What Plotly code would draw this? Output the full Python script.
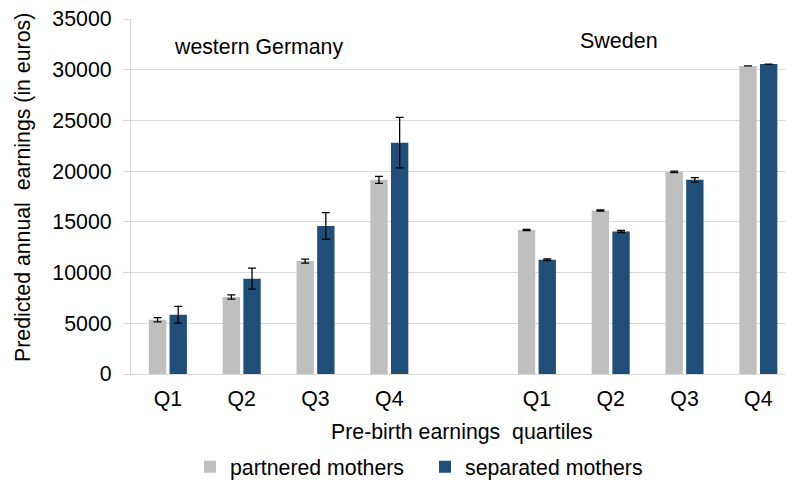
import plotly.graph_objects as go

# ---- data ----
quartiles = ["Q1", "Q2", "Q3", "Q4"]
countries = ["western Germany", "Sweden"]
series_names = ["partnered mothers", "separated mothers"]

germany_partnered = [5350, 7600, 11130, 19140]
germany_partnered_err = [215, 210, 200, 345]
germany_separated = [5840, 9400, 14600, 22810]
germany_separated_err = [820, 1035, 1315, 2490]

sweden_partnered = [14190, 16120, 19930, 30370]
sweden_partnered_err = [60, 50, 70, None]
sweden_separated = [11260, 14050, 19140, 30560]
sweden_separated_err = [80, 100, 230, None]

y_ticks = [0, 5000, 10000, 15000, 20000, 25000, 30000, 35000]

# ---- category layout (germany quartiles, spacer, sweden quartiles) ----
de_cats = ["DE " + q for q in quartiles]
se_cats = ["SE " + q for q in quartiles]
spacer = ["spacer"]
all_cats = de_cats + spacer + se_cats
tick_text = quartiles + [""] + quartiles

colors = {"partnered mothers": "#bfbfbf", "separated mothers": "#1f4e79"}
FONT = "Liberation Sans, Arial, sans-serif"

L, R, T, B = 131, 786, 19, 374
PW, PH = R - L, B - T

fig = go.Figure()

series = [
    ("partnered mothers", germany_partnered + sweden_partnered,
     germany_partnered_err + sweden_partnered_err),
    ("separated mothers", germany_separated + sweden_separated,
     germany_separated_err + sweden_separated_err),
]
for name, vals, errs in series:
    fig.add_trace(go.Bar(
        name=name,
        x=de_cats + se_cats,
        y=vals,
        marker=dict(color=colors[name], line=dict(width=0)),
        error_y=dict(type="data", array=errs, visible=True,
                     color="#000000", thickness=1.3, width=4),
    ))

fig.update_layout(
    width=786, height=481,
    margin=dict(l=L, r=786 - R, t=T, b=481 - B, autoexpand=False),
    paper_bgcolor="white", plot_bgcolor="white",
    barmode="group", bargap=0.44, bargroupgap=0.16,
    font=dict(family=FONT, size=21, color="#000000"),
    showlegend=True,
    legend=dict(orientation="h", x=(190 - L) / PW, xanchor="left",
                y=1 - (467 - T) / PH, yanchor="middle",
                font=dict(size=21.3), entrywidth=190, entrywidthmode="pixels",
                itemwidth=30, traceorder="normal", bgcolor="rgba(0,0,0,0)"),
    annotations=[
        dict(text=countries[0], xref="paper", yref="paper",
             x=(171.7 - L) / PW, y=1 - (47 - T) / PH, xanchor="left", yanchor="middle",
             showarrow=False, font=dict(size=21.3)),
        dict(text=countries[1], xref="paper", yref="paper",
             x=(619 - L) / PW, y=1 - (41 - T) / PH, xanchor="center", yanchor="middle",
             showarrow=False, font=dict(size=21.5)),
        dict(text="Predicted annual&nbsp; earnings (in euros)", xref="paper", yref="paper",
             x=(23 - L) / PW, y=1 - (188 - T) / PH, xanchor="center", yanchor="middle",
             textangle=-90, showarrow=False, font=dict(size=21.3)),
        dict(text="Pre-birth earnings&nbsp; quartiles", xref="paper", yref="paper",
             x=(462 - L) / PW, y=1 - (432 - T) / PH, xanchor="center", yanchor="middle",
             showarrow=False, font=dict(size=21.3)),
    ],
)

fig.update_xaxes(
    type="category", categoryorder="array", categoryarray=all_cats,
    tickmode="array", tickvals=all_cats, ticktext=tick_text,
    range=[-0.5, 8.375], automargin=False,
    showline=True, linecolor="#d9d9d9", linewidth=1.3,
    ticks="", showgrid=False, ticklabelstandoff=5,
    tickfont=dict(size=21.3),
)
fig.update_yaxes(
    range=[0, 35000], tickmode="array", tickvals=y_ticks,
    ticktext=[str(v) for v in y_ticks], automargin=False,
    showgrid=True, gridcolor="#d9d9d9", gridwidth=1.3,
    showline=True, linecolor="#d9d9d9", linewidth=1.3,
    ticks="outside", ticklen=7, tickcolor="#d9d9d9", tickwidth=1.3,
    ticklabelstandoff=7,
    tickfont=dict(size=21.3), zeroline=False,
)

fig.write_html(
    "out.html",
    config={"displayModeBar": False},
    post_script="document.body.style.margin='0';document.body.style.overflow='hidden';",
)
